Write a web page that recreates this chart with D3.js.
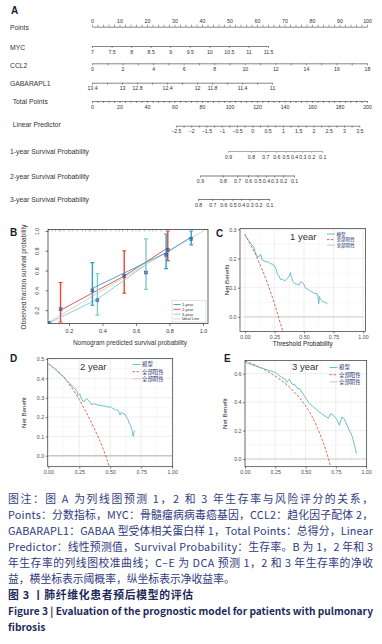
<!DOCTYPE html>
<html>
<head>
<meta charset="utf-8">
<script src="https://cdn.jsdelivr.net/npm/d3@7"></script>
<style>
body { margin: 0; background: #fff; }
svg { display: block; }
</style>
</head>
<body>
<div id="chart"></div>
<script>
// ---------- data: nomogram (panel A) ----------
var pointLabels = [0, 10, 20, 30, 40, 50, 60, 70, 80, 90, 100];
var mycTicks = [7, 7.5, 8, 8.5, 9, 9.5, 10, 10.5, 11, 11.5];
var mycPointRange = [0, 64];          // points given to MYC 7 and 11.5
var ccl2Labels = [0, 2, 4, 6, 8, 10, 12, 14, 16, 18];
var ccl2PointRange = [0, 100];
var gabaLabels = [13.4, 13, 12.8, 12.4, 12, 11.8, 11.4, 11];
var gabaRange = [13.4, 11];
var gabaPointRange = [0, 65.5];
var totalLabels = [0, 20, 40, 60, 80, 100, 120, 140, 160, 180, 200];
var lpLabels = [-2.5, -2, -1.5, -1, -0.5, 0, 0.5, 1, 1.5, 2, 2.5, 3, 3.5];
var lpTotalRange = [61, 194.4];       // total points at LP -2.5 and 3.5
var surv1Probs = [0.9, 0.8, 0.7, 0.6, 0.5, 0.4, 0.3, 0.2, 0.1];
var surv1Total = [99, 115.6, 126, 134, 140.8, 147, 153, 159.4, 167.4];
var surv2Probs = [0.9, 0.8, 0.7, 0.6, 0.5, 0.4, 0.3, 0.2, 0.1];
var surv2Total = [78.5, 95.1, 105.5, 113.5, 120.3, 126.5, 132.5, 138.9, 146.9];
var surv3Probs = [0.8, 0.7, 0.6, 0.5, 0.4, 0.3, 0.2, 0.1];
var surv3Total = [77.1, 87.5, 95.5, 102.2, 108.4, 114.5, 120.9, 128.9];

// ---------- data: calibration (panel B) ----------
var calTicks = [0.2, 0.4, 0.6, 0.8, 1.0];
var cal1Pred = [0.34, 0.78, 0.93];
var cal1Obs = [0.42, 0.78, 0.94];
var cal1Lo = [0.25, 0.62, 0.86];
var cal1Hi = [0.68, 0.97, 1.0];
var cal1Cor = [0.40, 0.76, 0.92];
var cal2Pred = [0.15, 0.53, 0.79];
var cal2Obs = [0.20, 0.545, 0.83];
var cal2Lo = [0.08, 0.37, 0.70];
var cal2Hi = [0.48, 0.80, 1.0];
var cal2Cor = [0.21, 0.545, 0.81];
var cal3Pred = [0.08, 0.37, 0.66];
var cal3Obs = [0.07, 0.31, 0.66];
var cal3Lo = [null, 0.15, 0.41];
var cal3Hi = [null, 0.57, 0.92];
var cal3Cor = [0.07, 0.30, 0.58];
var rugPred = [0.08, 0.1, 0.12, 0.14, 0.15, 0.17, 0.2, 0.22, 0.25, 0.28, 0.3, 0.32, 0.33, 0.35, 0.36,
               0.38, 0.4, 0.42, 0.45, 0.48, 0.5, 0.52, 0.55, 0.58, 0.6, 0.62, 0.65, 0.68, 0.7, 0.72, 0.75];
var calLegend = ["1-year", "2-year", "3-year", "Ideal Line"];

// ---------- data: decision curves (panels C-E) ----------
var dcaXTicks = [0, 0.25, 0.5, 0.75, 1];
var dcaLegend = ["模型", "全部阳性", "全部阴性"];
var c1Model = [[0, 0.28], [0.03, 0.262], [0.06, 0.245], [0.075, 0.24], [0.085, 0.225], [0.1, 0.208], [0.115, 0.205],
  [0.125, 0.212], [0.135, 0.214], [0.145, 0.195], [0.16, 0.192], [0.18, 0.19], [0.2, 0.187], [0.22, 0.182],
  [0.24, 0.18], [0.255, 0.17], [0.265, 0.162], [0.275, 0.145], [0.29, 0.14], [0.3, 0.128], [0.315, 0.13],
  [0.33, 0.125], [0.345, 0.126], [0.36, 0.132], [0.375, 0.14], [0.385, 0.152], [0.395, 0.135], [0.405, 0.122],
  [0.42, 0.115], [0.44, 0.113], [0.455, 0.108], [0.47, 0.12], [0.485, 0.118], [0.5, 0.112], [0.51, 0.1],
  [0.53, 0.095], [0.55, 0.09], [0.57, 0.085], [0.59, 0.08], [0.61, 0.08], [0.62, 0.065], [0.625, 0.045],
  [0.63, 0.07], [0.64, 0.06], [0.66, 0.052], [0.68, 0.05], [0.7, 0.044]];
var c1All = [[0, 0.283], [0.05, 0.245], [0.1, 0.205], [0.15, 0.158], [0.2, 0.105], [0.25, 0.045], [0.3, -0.022], [0.33, -0.06]];
var c2Model = [[0.01, 0.472], [0.05, 0.45], [0.1, 0.42], [0.13, 0.405], [0.15, 0.385], [0.17, 0.378], [0.19, 0.36],
  [0.21, 0.35], [0.23, 0.335], [0.24, 0.315], [0.255, 0.318], [0.27, 0.29], [0.285, 0.278], [0.31, 0.296],
  [0.325, 0.285], [0.34, 0.275], [0.35, 0.262], [0.36, 0.27], [0.4, 0.262], [0.44, 0.258], [0.47, 0.255],
  [0.49, 0.25], [0.5, 0.255], [0.52, 0.245], [0.54, 0.238], [0.56, 0.235], [0.57, 0.225], [0.58, 0.21],
  [0.59, 0.225], [0.6, 0.218], [0.62, 0.215], [0.63, 0.2], [0.645, 0.185], [0.655, 0.165], [0.665, 0.155],
  [0.675, 0.135], [0.685, 0.1], [0.695, 0.13]];
var c2All = [[0, 0.475], [0.12, 0.41], [0.25, 0.29], [0.36, 0.155], [0.44, 0.04], [0.5, -0.07]];
var c3Model = [[0, 0.68], [0.05, 0.665], [0.1, 0.65], [0.18, 0.628], [0.235, 0.614], [0.256, 0.609], [0.275, 0.591],
  [0.303, 0.574], [0.33, 0.563], [0.344, 0.54], [0.366, 0.563], [0.386, 0.528], [0.413, 0.521], [0.432, 0.498],
  [0.455, 0.493], [0.468, 0.47], [0.488, 0.447], [0.51, 0.419], [0.532, 0.388], [0.551, 0.377], [0.565, 0.365],
  [0.587, 0.353], [0.606, 0.335], [0.634, 0.319], [0.661, 0.302], [0.689, 0.288], [0.708, 0.319], [0.73, 0.307],
  [0.758, 0.279], [0.78, 0.237], [0.799, 0.295], [0.818, 0.284], [0.84, 0.242], [0.862, 0.202], [0.882, 0.167],
  [0.901, 0.109], [0.92, 0.04]];
var c3All = [[0, 0.69], [0.1, 0.655], [0.2, 0.61], [0.3, 0.553], [0.4, 0.478], [0.5, 0.375], [0.55, 0.305],
  [0.6, 0.215], [0.65, 0.105], [0.69, 0], [0.72, -0.1]];

// ---------- caption ----------
var captionLines = [
  "图注：图 A 为列线图预测 1，2 和 3 年生存率与风险评分的关系，",
  "Points：分数指标，MYC：骨髓瘤病病毒癌基因，CCL2：趋化因子配体 2，",
  "GABARAPL1：GABAA 型受体相关蛋白样 1，Total Points：总得分，Linear",
  "Predictor：线性预测值，Survival Probability：生存率。B 为 1，2 年和 3",
  "年生存率的列线图校准曲线；C–E 为 DCA 预测 1，2 和 3 年生存率的净收",
  "益，横坐标表示阈概率，纵坐标表示净收益率。"
];
var titleZh = "图 3 丨肺纤维化患者预后模型的评估";
var titleEn = ["Figure 3 | Evaluation of the prognostic model for patients with pulmonary", "fibrosis"];

var W = 382, H = 644;
var FONT = "'Liberation Sans', Arial, sans-serif";
var svg = d3.select("#chart").append("svg")
    .attr("width", W).attr("height", H)
    .style("font-family", FONT);
svg.append("rect").attr("width", W).attr("height", H).attr("fill", "#fff");

function panelLetter(t, x, y) {
  svg.append("text").attr("x", x).attr("y", y).text(t)
    .attr("font-size", 10).attr("font-weight", "bold").attr("fill", "#1a1a33");
}
function fmtNum(d) { return d < 0 ? "\u2212" + Math.abs(d) : String(d); }
function inList(list) { return function(d) { return list.some(function(v) { return Math.abs(v - d) < 1e-6; }); }; }

// ================= Panel A =================
panelLetter("A", 11, 14);
var ptsX = d3.scaleLinear().domain([0, 100]).range([92, 367]);
var totX = d3.scaleLinear().domain([0, 200]).range([92, 367]);

function rowLabel(t, x, y) {
  svg.append("text").attr("x", x).attr("y", y).text(t)
    .attr("font-size", 6.8).attr("fill", "#333");
}
function styleAxis(g, color) {
  g.select(".domain").attr("stroke", color || "#555").attr("stroke-width", 0.7);
  g.selectAll(".tick line").attr("stroke", color || "#555").attr("stroke-width", 0.6);
  g.selectAll(".tick text").attr("font-size", 5.2).attr("fill", "#333").attr("font-family", FONT);
}
function nomoAxis(scale, y, ticks, isLabel, top, color) {
  var ax = (top ? d3.axisTop(scale) : d3.axisBottom(scale))
    .tickValues(ticks).tickSize(2).tickSizeOuter(0).tickPadding(2)
    .tickFormat(function(d) { return isLabel(d) ? fmtNum(+d.toFixed(2)) : ""; });
  var g = svg.append("g").attr("transform", "translate(0," + y + ")").call(ax);
  styleAxis(g, color);
  return g;
}

// Points
rowLabel("Points", 10, 30);
nomoAxis(ptsX, 26.7, d3.range(0, 101, 2), inList(pointLabels), true);

// MYC
rowLabel("MYC", 10, 49.5);
var mycScale = d3.scaleLinear().domain([mycTicks[0], mycTicks[mycTicks.length - 1]])
  .range(mycPointRange.map(ptsX));
nomoAxis(mycScale, 46, mycTicks, inList(mycTicks));

// CCL2
rowLabel("CCL2", 10, 68);
var ccl2Scale = d3.scaleLinear().domain([0, 18]).range(ccl2PointRange.map(ptsX));
nomoAxis(ccl2Scale, 63.3, d3.range(0, 19, 1), inList(ccl2Labels));

// GABARAPL1
rowLabel("GABARAPL1", 10, 85.5);
var gabaScale = d3.scaleLinear().domain(gabaRange).range(gabaPointRange.map(ptsX));
nomoAxis(gabaScale, 82.7, d3.range(13.4, 10.95, -0.2).map(function(v) { return +v.toFixed(1); }), inList(gabaLabels));

// Total points
rowLabel("Total Points", 12.7, 103.5);
nomoAxis(totX, 101, d3.range(0, 201, 4), inList(totalLabels));

// Linear predictor
rowLabel("Linear Predictor", 12.7, 126.5);
var lpScale = d3.scaleLinear().domain([-2.5, 3.5]).range(lpTotalRange.map(totX));
nomoAxis(lpScale, 125.7, d3.range(-2.5, 3.51, 0.25), inList(lpLabels));

// survival rows
function survRow(label, ly, axY, probs, tots, color) {
  rowLabel(label, 10, ly);
  var s = d3.scaleLinear().domain([tots[0], tots[tots.length - 1]])
    .range([totX(tots[0]), totX(tots[tots.length - 1])]);
  var ax = d3.axisBottom(s).tickValues(tots).tickSize(2).tickSizeOuter(0).tickPadding(2)
    .tickFormat(function(d, i) { return String(probs[i]); });
  var g = svg.append("g").attr("transform", "translate(0," + axY + ")").call(ax);
  styleAxis(g, color);
}
survRow("1-year Survival Probability", 154, 151, surv1Probs, surv1Total, "#888");
survRow("2-year Survival Probability", 179, 175.5, surv2Probs, surv2Total, "#444");
survRow("3-year Survival Probability", 201.5, 199, surv3Probs, surv3Total, "#444");

// ================= Panel B =================
panelLetter("B", 10, 236);
var bx = d3.scaleLinear().domain([0.075, 1.03]).range([48, 208]);
var by = d3.scaleLinear().domain([0.065, 1.015]).range([323.5, 229.5]);
svg.append("clipPath").attr("id", "clipB").append("rect")
  .attr("x", 48).attr("y", 229.5).attr("width", 160).attr("height", 94);
var gB = svg.append("g").attr("clip-path", "url(#clipB)");

// ideal line
gB.append("line").attr("x1", bx(0)).attr("y1", by(0)).attr("x2", bx(1.1)).attr("y2", by(1.1))
  .attr("stroke", "#d4d4d4").attr("stroke-width", 1);

// rug on top
gB.selectAll(".rug").data(rugPred).enter().append("line")
  .attr("x1", function(d) { return bx(d); }).attr("x2", function(d) { return bx(d); })
  .attr("y1", 229.5).attr("y2", 231.5).attr("stroke", "#777").attr("stroke-width", 0.5);

var calSeries = [
  { pred: cal2Pred, obs: cal2Obs, lo: cal2Lo, hi: cal2Hi, cor: cal2Cor, color: "#e2483b" },
  { pred: cal3Pred, obs: cal3Obs, lo: cal3Lo, hi: cal3Hi, cor: cal3Cor, color: "#7fcdc6" },
  { pred: cal1Pred, obs: cal1Obs, lo: cal1Lo, hi: cal1Hi, cor: cal1Cor, color: "#2ea1c9" }
];
var calLine = d3.line().x(function(d) { return bx(d[0]); }).y(function(d) { return by(d[1]); });
calSeries.forEach(function(s) {
  var pts = s.pred.map(function(p, i) { return [p, s.obs[i]]; });
  gB.append("path").datum(pts).attr("d", calLine).attr("fill", "none")
    .attr("stroke", s.color).attr("stroke-width", 0.9);
  s.pred.forEach(function(p, i) {
    if (s.lo[i] == null) return;
    var x = bx(p);
    gB.append("line").attr("x1", x).attr("x2", x).attr("y1", by(s.lo[i])).attr("y2", by(s.hi[i]))
      .attr("stroke", s.color).attr("stroke-width", 1.4);
    [s.lo[i], s.hi[i]].forEach(function(v) {
      gB.append("line").attr("x1", x - 2).attr("x2", x + 2).attr("y1", by(v)).attr("y2", by(v))
        .attr("stroke", s.color).attr("stroke-width", 1.1);
    });
  });
});
calSeries.forEach(function(s) {
  s.pred.forEach(function(p, i) {
    var x = bx(p), y = by(s.cor[i]), r = 1.4;
    gB.append("rect").attr("x", x - r).attr("y", y - r).attr("width", 2 * r).attr("height", 2 * r)
      .attr("fill", "none").attr("stroke", "#2c4c9c").attr("stroke-width", 0.6);
    gB.append("path").attr("d", "M" + (x - r) + "," + (y - r) + "L" + (x + r) + "," + (y + r) +
      "M" + (x - r) + "," + (y + r) + "L" + (x + r) + "," + (y - r))
      .attr("stroke", "#2c4c9c").attr("stroke-width", 0.6);
  });
});

// legend
var legB = svg.append("g");
legB.append("rect").attr("x", 172).attr("y", 300.5).attr("width", 34).attr("height", 21.5)
  .attr("fill", "#fff").attr("stroke", "#bbb").attr("stroke-width", 0.4);
var legColors = ["#2ea1c9", "#e2483b", "#7fcdc6", "#d4d4d4"];
calLegend.forEach(function(t, i) {
  var y = 304.5 + i * 4.8;
  legB.append("line").attr("x1", 173.5).attr("x2", 180.5).attr("y1", y).attr("y2", y)
    .attr("stroke", legColors[i]).attr("stroke-width", 0.9);
  legB.append("text").attr("x", 182).attr("y", y + 1.4).text(t)
    .attr("font-size", 4).attr("fill", "#333");
});

// frame & axes
svg.append("rect").attr("x", 48).attr("y", 229.5).attr("width", 160).attr("height", 94)
  .attr("fill", "none").attr("stroke", "#222").attr("stroke-width", 0.7);
var bxAxis = svg.append("g").attr("transform", "translate(0,323.5)")
  .call(d3.axisBottom(bx).tickValues(calTicks).tickSize(2.5).tickPadding(3).tickFormat(d3.format(".1f")));
bxAxis.select(".domain").remove();
bxAxis.selectAll(".tick line").attr("stroke", "#222").attr("stroke-width", 0.6);
bxAxis.selectAll(".tick text").attr("font-size", 5.5).attr("fill", "#333").attr("font-family", FONT);
var byAxis = svg.append("g").attr("transform", "translate(48,0)")
  .call(d3.axisLeft(by).tickValues(calTicks).tickSize(2.5).tickFormat(d3.format(".1f")));
byAxis.select(".domain").remove();
byAxis.selectAll(".tick line").attr("stroke", "#222").attr("stroke-width", 0.6);
byAxis.selectAll(".tick text").attr("font-size", 5.5).attr("fill", "#333").attr("font-family", FONT)
  .attr("x", 0).attr("dy", 0).attr("text-anchor", "middle")
  .attr("transform", "translate(-9,0) rotate(-90)");
svg.append("text").attr("x", 130).attr("y", 345).attr("text-anchor", "middle")
  .attr("font-size", 6.4).attr("fill", "#333").text("Nomogram predicted survival probability");
svg.append("text").attr("transform", "translate(25.5,277) rotate(-90)").attr("text-anchor", "middle")
  .attr("font-size", 6.4).attr("fill", "#333").text("Observed fraction survival probability");

// ================= Panels C, D, E =================
function dcaPanel(o) {
  var x = d3.scaleLinear().domain(o.xd).range([o.left, o.right]);
  var y = d3.scaleLinear().domain(o.yd).range([o.bottom, o.top]);
  var id = "clip" + o.letter;
  svg.append("clipPath").attr("id", id).append("rect")
    .attr("x", o.left).attr("y", o.top).attr("width", o.right - o.left).attr("height", o.bottom - o.top);
  var g = svg.append("g").attr("clip-path", "url(#" + id + ")");
  // grid
  var xMinor = dcaXTicks.slice(0, -1).map(function(v) { return v + 0.125; }).concat([-0.125, 1.125]);
  var yMinor = o.yTicks.map(function(v) { return v + o.yStep / 2; }).concat([o.yTicks[0] - o.yStep / 2]);
  g.selectAll(".vmin").data(xMinor).enter().append("line")
    .attr("x1", function(d) { return x(d); }).attr("x2", function(d) { return x(d); })
    .attr("y1", o.top).attr("y2", o.bottom).attr("stroke", "#f1f1f1").attr("stroke-width", 0.5);
  g.selectAll(".hmin").data(yMinor).enter().append("line")
    .attr("y1", function(d) { return y(d); }).attr("y2", function(d) { return y(d); })
    .attr("x1", o.left).attr("x2", o.right).attr("stroke", "#f1f1f1").attr("stroke-width", 0.5);
  g.selectAll(".vmaj").data(dcaXTicks).enter().append("line")
    .attr("x1", function(d) { return x(d); }).attr("x2", function(d) { return x(d); })
    .attr("y1", o.top).attr("y2", o.bottom).attr("stroke", "#e2e2e2").attr("stroke-width", 0.6);
  g.selectAll(".hmaj").data(o.yTicks).enter().append("line")
    .attr("y1", function(d) { return y(d); }).attr("y2", function(d) { return y(d); })
    .attr("x1", o.left).attr("x2", o.right).attr("stroke", "#e2e2e2").attr("stroke-width", 0.6);
  // treat none
  g.append("line").attr("x1", x(0)).attr("x2", x(1)).attr("y1", y(0)).attr("y2", y(0))
    .attr("stroke", "#c6c6c6").attr("stroke-width", o.noneW);
  var line = d3.line().x(function(d) { return x(d[0]); }).y(function(d) { return y(d[1]); });
  g.append("path").datum(o.all).attr("d", line.curve(d3.curveMonotoneX)).attr("fill", "none")
    .attr("stroke", "#d8574c").attr("stroke-width", 0.9).attr("stroke-dasharray", "2.6,1.6");
  g.append("path").datum(o.model).attr("d", line.curve(d3.curveLinear)).attr("fill", "none")
    .attr("stroke", "#5cb8c8").attr("stroke-width", 0.9);
  // frame
  svg.append("rect").attr("x", o.left).attr("y", o.top).attr("width", o.right - o.left)
    .attr("height", o.bottom - o.top).attr("fill", "none").attr("stroke", "#333").attr("stroke-width", 0.7);
  // axes
  var ax = svg.append("g").attr("transform", "translate(0," + o.bottom + ")")
    .call(d3.axisBottom(x).tickValues(dcaXTicks).tickSize(2).tickPadding(1.5).tickFormat(d3.format(".2f")));
  ax.select(".domain").remove();
  ax.selectAll(".tick line").attr("stroke", "#333").attr("stroke-width", 0.6);
  ax.selectAll(".tick text").attr("font-size", 5.3).attr("fill", "#4d4d4d").attr("font-family", FONT);
  var ay = svg.append("g").attr("transform", "translate(" + o.left + ",0)")
    .call(d3.axisLeft(y).tickValues(o.yTicks).tickSize(2).tickPadding(1.5).tickFormat(d3.format(".1f")));
  ay.select(".domain").remove();
  ay.selectAll(".tick line").attr("stroke", "#333").attr("stroke-width", 0.6);
  ay.selectAll(".tick text").attr("font-size", 5.3).attr("fill", "#4d4d4d").attr("font-family", FONT);
  if (o.xTitle) {
    svg.append("text").attr("x", (o.left + o.right) / 2).attr("y", o.bottom + 14).attr("text-anchor", "middle")
      .attr("font-size", 6.4).attr("fill", "#222").text("Threshold Probability");
  }
  svg.append("text").attr("transform", "translate(" + o.ytX + "," + ((o.top + o.bottom) / 2) + ") rotate(-90)")
    .attr("text-anchor", "middle").attr("font-size", 6.2).attr("fill", "#222").text("Net Benefit");
  // year label
  svg.append("text").attr("x", o.titleX).attr("y", o.titleY).text(o.title)
    .attr("font-size", 9.5).attr("fill", "#333");
  // legend
  var lc = [["#5cb8c8", null], ["#d8574c", "2.4,1.6"], ["#c6c6c6", null]];
  dcaLegend.forEach(function(t, i) {
    var yy = o.legY + i * o.legDy;
    svg.append("line").attr("x1", o.legX).attr("x2", o.legX + 8).attr("y1", yy).attr("y2", yy)
      .attr("stroke", lc[i][0]).attr("stroke-width", 0.9).attr("stroke-dasharray", lc[i][1]);
    svg.append("text").attr("x", o.legX + 9.5).attr("y", yy + o.legFont * 0.36).text(t)
      .attr("font-family", "'Noto Sans CJK SC', sans-serif").attr("font-size", o.legFont).attr("fill", "#1d2a6e");
  });
  panelLetter(o.letter, o.lx, o.ly);
}

dcaPanel({ letter: "C", lx: 216, ly: 237, left: 240, right: 365.5, top: 228.5, bottom: 331.5,
  xd: [-0.042, 1.021], yd: [-0.05, 0.303], yTicks: [0, 0.1, 0.2, 0.3], yStep: 0.1,
  model: c1Model, all: c1All, noneW: 0.8, xTitle: true, ytX: 229,
  title: "1 year", titleX: 290, titleY: 240, legX: 327, legY: 234, legDy: 5.6, legFont: 4.6 });
dcaPanel({ letter: "D", lx: 10, ly: 362, left: 47.7, right: 172.7, top: 358.5, bottom: 466.7,
  xd: [-0.005, 1.004], yd: [-0.057, 0.503], yTicks: [0, 0.1, 0.2, 0.3, 0.4, 0.5], yStep: 0.1,
  model: c2Model, all: c2All, noneW: 1.6, xTitle: false, ytX: 26,
  title: "2 year", titleX: 80, titleY: 369.5, legX: 132.5, legY: 364.5, legDy: 7.2, legFont: 5.4 });
dcaPanel({ letter: "E", lx: 224, ly: 362, left: 245, right: 366.7, top: 360.5, bottom: 466.7,
  xd: [0, 1.005], yd: [-0.054, 0.693], yTicks: [0, 0.2, 0.4, 0.6], yStep: 0.2,
  model: c3Model, all: c3All, noneW: 0.8, xTitle: false, ytX: 227,
  title: "3 year", titleX: 292, titleY: 369.5, legX: 329.5, legY: 367.5, legDy: 7.2, legFont: 5.4 });

// ================= caption =================
var CJK = "'Noto Sans CJK SC', 'Noto Sans', sans-serif";
function capLine(t, y, opts) {
  var el = svg.append("text").attr("x", 8).attr("y", y).text(t)
    .attr("font-family", CJK).attr("font-size", opts.size)
    .attr("font-weight", opts.bold ? "bold" : "normal").attr("fill", opts.color);
  if (opts.width) {
    var natural = el.node().getComputedTextLength();
    el.attr("textLength", opts.width)
      .attr("lengthAdjust", natural > opts.width ? "spacingAndGlyphs" : "spacing");
  }
}
var capY = [503, 519, 535, 551, 567, 583];
captionLines.forEach(function(t, i) {
  capLine(t, capY[i], { size: 10.8, color: "#2f3b7e", width: i < 5 ? 365 : null });
});
capLine(titleZh, 599, { size: 10.8, bold: true, color: "#1f2a5c", width: 185 });
capLine(titleEn[0], 615, { size: 10.2, bold: true, color: "#1f2a5c", width: 365 });
capLine(titleEn[1], 631, { size: 10.2, bold: true, color: "#1f2a5c" });
</script>
</body>
</html>
